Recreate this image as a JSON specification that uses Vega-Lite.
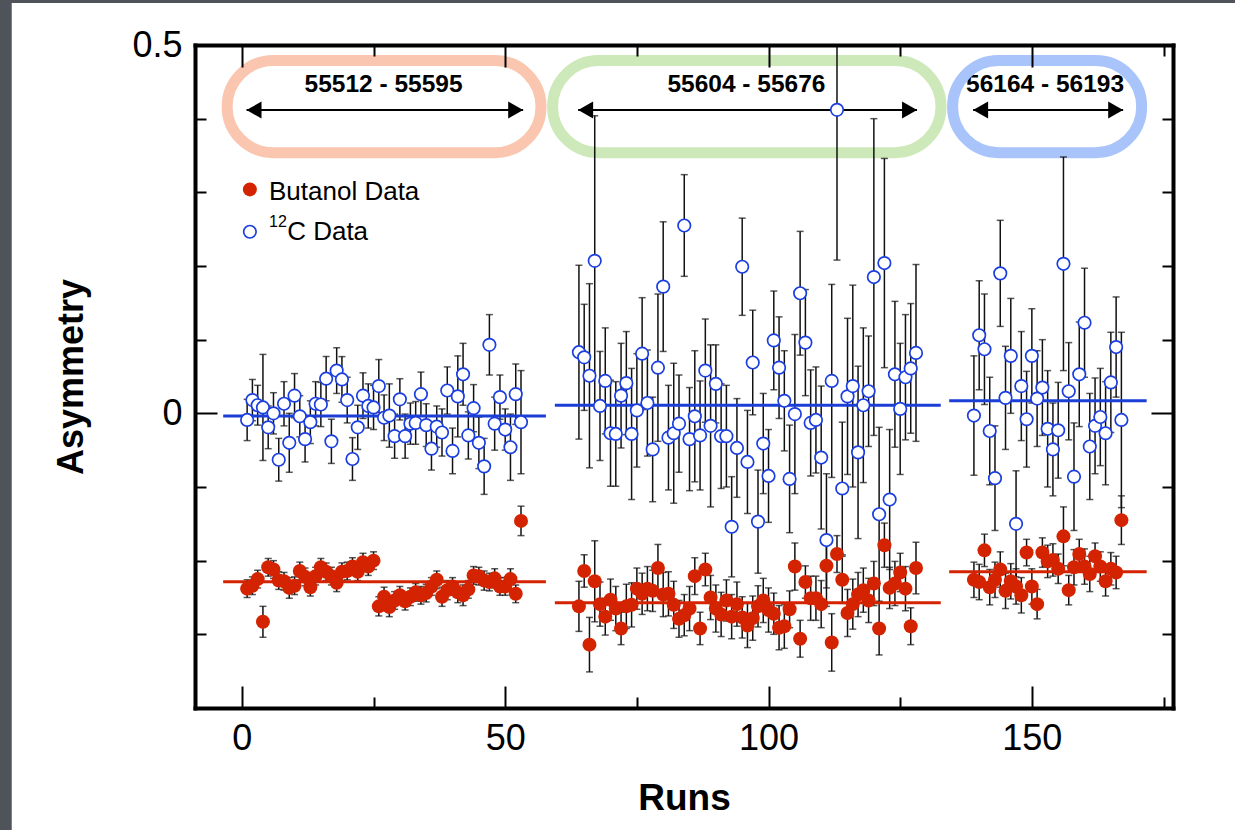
{
  "$schema": "https://vega.github.io/schema/vega-lite/v6.json",
  "width": 978,
  "height": 663,
  "autosize": {"type": "none"},
  "padding": {"left": 195, "top": 45, "right": 62, "bottom": 122},
  "background": "#4f535a",
  "config": {"view": {"stroke": null}, "font": "Liberation Sans"},
  "datasets": {
    "runs": [
      {"run":1,"target":"12C","asym":-0.009,"err":0.028},{"run":2,"target":"12C","asym":0.018,"err":0.028},{"run":3,"target":"12C","asym":0.011,"err":0.027},{"run":4,"target":"12C","asym":0.008,"err":0.072},{"run":5,"target":"12C","asym":-0.019,"err":0.029},{"run":6,"target":"12C","asym":0.0,"err":0.028},{"run":7,"target":"12C","asym":-0.063,"err":0.029},{"run":8,"target":"12C","asym":0.013,"err":0.030},{"run":9,"target":"12C","asym":-0.040,"err":0.040},{"run":10,"target":"12C","asym":0.024,"err":0.030},
      {"run":11,"target":"12C","asym":-0.004,"err":0.028},{"run":12,"target":"12C","asym":-0.035,"err":0.031},{"run":13,"target":"12C","asym":-0.012,"err":0.029},{"run":14,"target":"12C","asym":0.013,"err":0.030},{"run":15,"target":"12C","asym":0.012,"err":0.030},{"run":16,"target":"12C","asym":0.047,"err":0.030},{"run":17,"target":"12C","asym":-0.038,"err":0.030},{"run":18,"target":"12C","asym":0.058,"err":0.031},{"run":19,"target":"12C","asym":0.046,"err":0.031},{"run":20,"target":"12C","asym":0.018,"err":0.031},
      {"run":21,"target":"12C","asym":-0.062,"err":0.029},{"run":22,"target":"12C","asym":-0.019,"err":0.030},{"run":23,"target":"12C","asym":0.024,"err":0.031},{"run":24,"target":"12C","asym":0.010,"err":0.030},{"run":25,"target":"12C","asym":0.008,"err":0.030},{"run":26,"target":"12C","asym":0.037,"err":0.036},{"run":27,"target":"12C","asym":-0.006,"err":0.031},{"run":28,"target":"12C","asym":-0.003,"err":0.043},{"run":29,"target":"12C","asym":-0.031,"err":0.030},{"run":30,"target":"12C","asym":0.019,"err":0.028},
      {"run":31,"target":"12C","asym":-0.031,"err":0.030},{"run":32,"target":"12C","asym":-0.014,"err":0.028},{"run":33,"target":"12C","asym":-0.013,"err":0.029},{"run":34,"target":"12C","asym":0.026,"err":0.030},{"run":35,"target":"12C","asym":-0.016,"err":0.029},{"run":36,"target":"12C","asym":-0.048,"err":0.029},{"run":37,"target":"12C","asym":-0.018,"err":0.028},{"run":38,"target":"12C","asym":-0.026,"err":0.032},{"run":39,"target":"12C","asym":0.031,"err":0.032},{"run":40,"target":"12C","asym":-0.051,"err":0.031},
      {"run":41,"target":"12C","asym":0.023,"err":0.055},{"run":42,"target":"12C","asym":0.053,"err":0.042},{"run":43,"target":"12C","asym":-0.030,"err":0.032},{"run":44,"target":"12C","asym":0.007,"err":0.032},{"run":45,"target":"12C","asym":-0.040,"err":0.035},{"run":46,"target":"12C","asym":-0.072,"err":0.038},{"run":47,"target":"12C","asym":0.093,"err":0.041},{"run":48,"target":"12C","asym":-0.014,"err":0.036},{"run":49,"target":"12C","asym":0.022,"err":0.030},{"run":50,"target":"12C","asym":-0.022,"err":0.028},
      {"run":51,"target":"12C","asym":-0.046,"err":0.045},{"run":52,"target":"12C","asym":0.026,"err":0.041},{"run":53,"target":"12C","asym":-0.012,"err":0.070},
      {"run":64,"target":"12C","asym":0.083,"err":0.118},{"run":65,"target":"12C","asym":0.076,"err":0.072},{"run":66,"target":"12C","asym":0.051,"err":0.125},{"run":67,"target":"12C","asym":0.207,"err":0.197},{"run":68,"target":"12C","asym":0.010,"err":0.074},{"run":69,"target":"12C","asym":0.044,"err":0.072},{"run":70,"target":"12C","asym":-0.027,"err":0.072},
      {"run":71,"target":"12C","asym":-0.028,"err":0.071},{"run":72,"target":"12C","asym":0.024,"err":0.071},{"run":73,"target":"12C","asym":0.041,"err":0.070},{"run":74,"target":"12C","asym":-0.028,"err":0.089},{"run":75,"target":"12C","asym":0.004,"err":0.077},{"run":76,"target":"12C","asym":0.081,"err":0.076},{"run":77,"target":"12C","asym":0.014,"err":0.072},{"run":78,"target":"12C","asym":-0.049,"err":0.071},{"run":79,"target":"12C","asym":0.062,"err":0.100},{"run":80,"target":"12C","asym":0.172,"err":0.088},
      {"run":81,"target":"12C","asym":-0.033,"err":0.071},{"run":82,"target":"12C","asym":-0.027,"err":0.095},{"run":83,"target":"12C","asym":-0.014,"err":0.066},{"run":84,"target":"12C","asym":0.255,"err":0.069},{"run":85,"target":"12C","asym":-0.035,"err":0.070},{"run":86,"target":"12C","asym":-0.004,"err":0.089},{"run":87,"target":"12C","asym":-0.030,"err":0.074},{"run":88,"target":"12C","asym":0.058,"err":0.070},{"run":89,"target":"12C","asym":-0.017,"err":0.110},{"run":90,"target":"12C","asym":0.040,"err":0.053},
      {"run":91,"target":"12C","asym":-0.031,"err":0.071},{"run":92,"target":"12C","asym":-0.031,"err":0.069},{"run":93,"target":"12C","asym":-0.154,"err":0.068},{"run":94,"target":"12C","asym":-0.047,"err":0.067},{"run":95,"target":"12C","asym":0.199,"err":0.066},{"run":96,"target":"12C","asym":-0.066,"err":0.070},{"run":97,"target":"12C","asym":0.069,"err":0.071},{"run":98,"target":"12C","asym":-0.147,"err":0.070},{"run":99,"target":"12C","asym":-0.041,"err":0.068},{"run":100,"target":"12C","asym":-0.085,"err":0.063},
      {"run":101,"target":"12C","asym":0.099,"err":0.067},{"run":102,"target":"12C","asym":0.062,"err":0.069},{"run":103,"target":"12C","asym":0.017,"err":0.068},{"run":104,"target":"12C","asym":-0.089,"err":0.073},{"run":105,"target":"12C","asym":-0.001,"err":0.108},{"run":106,"target":"12C","asym":0.163,"err":0.084},{"run":107,"target":"12C","asym":0.096,"err":0.072},{"run":108,"target":"12C","asym":-0.013,"err":0.072},{"run":109,"target":"12C","asym":-0.009,"err":0.072},{"run":110,"target":"12C","asym":-0.060,"err":0.097},
      {"run":111,"target":"12C","asym":-0.172,"err":0.090},{"run":112,"target":"12C","asym":0.044,"err":0.131},{"run":113,"target":"12C","asym":0.412,"err":0.204},{"run":114,"target":"12C","asym":-0.102,"err":0.090},{"run":115,"target":"12C","asym":0.023,"err":0.106},{"run":116,"target":"12C","asym":0.037,"err":0.137},{"run":117,"target":"12C","asym":-0.053,"err":0.117},{"run":118,"target":"12C","asym":0.011,"err":0.105},{"run":119,"target":"12C","asym":0.030,"err":0.075},{"run":120,"target":"12C","asym":0.185,"err":0.215},
      {"run":121,"target":"12C","asym":-0.137,"err":0.118},{"run":122,"target":"12C","asym":0.204,"err":0.142},{"run":123,"target":"12C","asym":-0.117,"err":0.095},{"run":124,"target":"12C","asym":0.053,"err":0.099},{"run":125,"target":"12C","asym":0.006,"err":0.089},{"run":126,"target":"12C","asym":0.049,"err":0.085},{"run":127,"target":"12C","asym":0.061,"err":0.088},{"run":128,"target":"12C","asym":0.082,"err":0.120},
      {"run":139,"target":"12C","asym":-0.003,"err":0.081},{"run":140,"target":"12C","asym":0.106,"err":0.074},{"run":141,"target":"12C","asym":0.087,"err":0.075},{"run":142,"target":"12C","asym":-0.024,"err":0.073},{"run":143,"target":"12C","asym":-0.088,"err":0.071},{"run":144,"target":"12C","asym":0.190,"err":0.072},{"run":145,"target":"12C","asym":0.021,"err":0.070},{"run":146,"target":"12C","asym":0.078,"err":0.078},{"run":147,"target":"12C","asym":-0.150,"err":0.072},{"run":148,"target":"12C","asym":0.037,"err":0.074},
      {"run":149,"target":"12C","asym":-0.008,"err":0.065},{"run":150,"target":"12C","asym":0.078,"err":0.064},{"run":151,"target":"12C","asym":0.020,"err":0.065},{"run":152,"target":"12C","asym":0.035,"err":0.065},{"run":153,"target":"12C","asym":-0.021,"err":0.079},{"run":154,"target":"12C","asym":-0.049,"err":0.063},{"run":155,"target":"12C","asym":-0.023,"err":0.065},{"run":156,"target":"12C","asym":0.203,"err":0.145},{"run":157,"target":"12C","asym":0.030,"err":0.066},{"run":158,"target":"12C","asym":-0.086,"err":0.073},
      {"run":159,"target":"12C","asym":0.053,"err":0.071},{"run":160,"target":"12C","asym":0.123,"err":0.074},{"run":161,"target":"12C","asym":-0.045,"err":0.072},{"run":162,"target":"12C","asym":-0.017,"err":0.065},{"run":163,"target":"12C","asym":-0.005,"err":0.066},{"run":164,"target":"12C","asym":-0.027,"err":0.070},{"run":165,"target":"12C","asym":0.042,"err":0.068},{"run":166,"target":"12C","asym":0.090,"err":0.068},{"run":167,"target":"12C","asym":-0.009,"err":0.119},

      {"run":1,"target":"Butanol","asym":-0.238,"err":0.012},{"run":2,"target":"Butanol","asym":-0.234,"err":0.012},{"run":3,"target":"Butanol","asym":-0.225,"err":0.012},{"run":4,"target":"Butanol","asym":-0.283,"err":0.021},{"run":5,"target":"Butanol","asym":-0.209,"err":0.012},{"run":6,"target":"Butanol","asym":-0.212,"err":0.012},{"run":7,"target":"Butanol","asym":-0.227,"err":0.012},{"run":8,"target":"Butanol","asym":-0.228,"err":0.012},{"run":9,"target":"Butanol","asym":-0.237,"err":0.014},{"run":10,"target":"Butanol","asym":-0.234,"err":0.012},
      {"run":11,"target":"Butanol","asym":-0.214,"err":0.012},{"run":12,"target":"Butanol","asym":-0.222,"err":0.012},{"run":13,"target":"Butanol","asym":-0.236,"err":0.012},{"run":14,"target":"Butanol","asym":-0.221,"err":0.012},{"run":15,"target":"Butanol","asym":-0.209,"err":0.012},{"run":16,"target":"Butanol","asym":-0.215,"err":0.012},{"run":17,"target":"Butanol","asym":-0.221,"err":0.012},{"run":18,"target":"Butanol","asym":-0.230,"err":0.012},{"run":19,"target":"Butanol","asym":-0.215,"err":0.012},{"run":20,"target":"Butanol","asym":-0.214,"err":0.012},
      {"run":21,"target":"Butanol","asym":-0.208,"err":0.012},{"run":22,"target":"Butanol","asym":-0.215,"err":0.012},{"run":23,"target":"Butanol","asym":-0.202,"err":0.012},{"run":24,"target":"Butanol","asym":-0.208,"err":0.012},{"run":25,"target":"Butanol","asym":-0.200,"err":0.012},{"run":26,"target":"Butanol","asym":-0.262,"err":0.013},{"run":27,"target":"Butanol","asym":-0.249,"err":0.013},{"run":28,"target":"Butanol","asym":-0.263,"err":0.013},{"run":29,"target":"Butanol","asym":-0.254,"err":0.012},{"run":30,"target":"Butanol","asym":-0.247,"err":0.012},
      {"run":31,"target":"Butanol","asym":-0.255,"err":0.012},{"run":32,"target":"Butanol","asym":-0.249,"err":0.012},{"run":33,"target":"Butanol","asym":-0.243,"err":0.012},{"run":34,"target":"Butanol","asym":-0.247,"err":0.012},{"run":35,"target":"Butanol","asym":-0.244,"err":0.012},{"run":36,"target":"Butanol","asym":-0.235,"err":0.012},{"run":37,"target":"Butanol","asym":-0.226,"err":0.012},{"run":38,"target":"Butanol","asym":-0.249,"err":0.013},{"run":39,"target":"Butanol","asym":-0.240,"err":0.013},{"run":40,"target":"Butanol","asym":-0.235,"err":0.012},
      {"run":41,"target":"Butanol","asym":-0.243,"err":0.014},{"run":42,"target":"Butanol","asym":-0.247,"err":0.014},{"run":43,"target":"Butanol","asym":-0.239,"err":0.012},{"run":44,"target":"Butanol","asym":-0.220,"err":0.012},{"run":45,"target":"Butanol","asym":-0.221,"err":0.012},{"run":46,"target":"Butanol","asym":-0.227,"err":0.013},{"run":47,"target":"Butanol","asym":-0.229,"err":0.012},{"run":48,"target":"Butanol","asym":-0.224,"err":0.013},{"run":49,"target":"Butanol","asym":-0.235,"err":0.012},{"run":50,"target":"Butanol","asym":-0.235,"err":0.012},
      {"run":51,"target":"Butanol","asym":-0.225,"err":0.014},{"run":52,"target":"Butanol","asym":-0.245,"err":0.012},{"run":53,"target":"Butanol","asym":-0.146,"err":0.020},
      {"run":64,"target":"Butanol","asym":-0.262,"err":0.034},{"run":65,"target":"Butanol","asym":-0.214,"err":0.022},{"run":66,"target":"Butanol","asym":-0.314,"err":0.037},{"run":67,"target":"Butanol","asym":-0.228,"err":0.055},{"run":68,"target":"Butanol","asym":-0.259,"err":0.030},{"run":69,"target":"Butanol","asym":-0.276,"err":0.025},{"run":70,"target":"Butanol","asym":-0.253,"err":0.028},
      {"run":71,"target":"Butanol","asym":-0.265,"err":0.030},{"run":72,"target":"Butanol","asym":-0.292,"err":0.022},{"run":73,"target":"Butanol","asym":-0.262,"err":0.030},{"run":74,"target":"Butanol","asym":-0.260,"err":0.030},{"run":75,"target":"Butanol","asym":-0.238,"err":0.028},{"run":76,"target":"Butanol","asym":-0.245,"err":0.028},{"run":77,"target":"Butanol","asym":-0.238,"err":0.030},{"run":78,"target":"Butanol","asym":-0.241,"err":0.028},{"run":79,"target":"Butanol","asym":-0.210,"err":0.032},{"run":80,"target":"Butanol","asym":-0.246,"err":0.030},
      {"run":81,"target":"Butanol","asym":-0.245,"err":0.030},{"run":82,"target":"Butanol","asym":-0.260,"err":0.032},{"run":83,"target":"Butanol","asym":-0.279,"err":0.025},{"run":84,"target":"Butanol","asym":-0.274,"err":0.028},{"run":85,"target":"Butanol","asym":-0.265,"err":0.030},{"run":86,"target":"Butanol","asym":-0.221,"err":0.025},{"run":87,"target":"Butanol","asym":-0.292,"err":0.022},{"run":88,"target":"Butanol","asym":-0.212,"err":0.022},{"run":89,"target":"Butanol","asym":-0.250,"err":0.030},{"run":90,"target":"Butanol","asym":-0.265,"err":0.032},
      {"run":91,"target":"Butanol","asym":-0.273,"err":0.030},{"run":92,"target":"Butanol","asym":-0.254,"err":0.028},{"run":93,"target":"Butanol","asym":-0.276,"err":0.030},{"run":94,"target":"Butanol","asym":-0.259,"err":0.030},{"run":95,"target":"Butanol","asym":-0.277,"err":0.028},{"run":96,"target":"Butanol","asym":-0.288,"err":0.030},{"run":97,"target":"Butanol","asym":-0.278,"err":0.030},{"run":98,"target":"Butanol","asym":-0.262,"err":0.028},{"run":99,"target":"Butanol","asym":-0.254,"err":0.030},{"run":100,"target":"Butanol","asym":-0.267,"err":0.030},
      {"run":101,"target":"Butanol","asym":-0.272,"err":0.028},{"run":102,"target":"Butanol","asym":-0.291,"err":0.030},{"run":103,"target":"Butanol","asym":-0.289,"err":0.030},{"run":104,"target":"Butanol","asym":-0.266,"err":0.025},{"run":105,"target":"Butanol","asym":-0.208,"err":0.032},{"run":106,"target":"Butanol","asym":-0.306,"err":0.025},{"run":107,"target":"Butanol","asym":-0.229,"err":0.022},{"run":108,"target":"Butanol","asym":-0.251,"err":0.030},{"run":109,"target":"Butanol","asym":-0.251,"err":0.030},{"run":110,"target":"Butanol","asym":-0.259,"err":0.032},
      {"run":111,"target":"Butanol","asym":-0.207,"err":0.030},{"run":112,"target":"Butanol","asym":-0.311,"err":0.039},{"run":113,"target":"Butanol","asym":-0.191,"err":0.025},{"run":114,"target":"Butanol","asym":-0.226,"err":0.032},{"run":115,"target":"Butanol","asym":-0.271,"err":0.032},{"run":116,"target":"Butanol","asym":-0.259,"err":0.034},{"run":117,"target":"Butanol","asym":-0.246,"err":0.030},{"run":118,"target":"Butanol","asym":-0.240,"err":0.030},{"run":119,"target":"Butanol","asym":-0.254,"err":0.030},{"run":120,"target":"Butanol","asym":-0.231,"err":0.030},
      {"run":121,"target":"Butanol","asym":-0.292,"err":0.036},{"run":122,"target":"Butanol","asym":-0.179,"err":0.030},{"run":123,"target":"Butanol","asym":-0.237,"err":0.028},{"run":124,"target":"Butanol","asym":-0.231,"err":0.030},{"run":125,"target":"Butanol","asym":-0.216,"err":0.026},{"run":126,"target":"Butanol","asym":-0.238,"err":0.030},{"run":127,"target":"Butanol","asym":-0.289,"err":0.025},{"run":128,"target":"Butanol","asym":-0.210,"err":0.035},
      {"run":139,"target":"Butanol","asym":-0.226,"err":0.024},{"run":140,"target":"Butanol","asym":-0.229,"err":0.024},{"run":141,"target":"Butanol","asym":-0.186,"err":0.022},{"run":142,"target":"Butanol","asym":-0.236,"err":0.024},{"run":143,"target":"Butanol","asym":-0.226,"err":0.024},{"run":144,"target":"Butanol","asym":-0.212,"err":0.024},{"run":145,"target":"Butanol","asym":-0.241,"err":0.024},{"run":146,"target":"Butanol","asym":-0.228,"err":0.024},{"run":147,"target":"Butanol","asym":-0.235,"err":0.024},{"run":148,"target":"Butanol","asym":-0.247,"err":0.024},
      {"run":149,"target":"Butanol","asym":-0.189,"err":0.018},{"run":150,"target":"Butanol","asym":-0.235,"err":0.024},{"run":151,"target":"Butanol","asym":-0.259,"err":0.020},{"run":152,"target":"Butanol","asym":-0.189,"err":0.020},{"run":153,"target":"Butanol","asym":-0.201,"err":0.022},{"run":154,"target":"Butanol","asym":-0.199,"err":0.022},{"run":155,"target":"Butanol","asym":-0.211,"err":0.020},{"run":156,"target":"Butanol","asym":-0.167,"err":0.040},{"run":157,"target":"Butanol","asym":-0.240,"err":0.020},{"run":158,"target":"Butanol","asym":-0.209,"err":0.024},
      {"run":159,"target":"Butanol","asym":-0.191,"err":0.020},{"run":160,"target":"Butanol","asym":-0.208,"err":0.024},{"run":161,"target":"Butanol","asym":-0.218,"err":0.024},{"run":162,"target":"Butanol","asym":-0.194,"err":0.018},{"run":163,"target":"Butanol","asym":-0.208,"err":0.020},{"run":164,"target":"Butanol","asym":-0.228,"err":0.020},{"run":165,"target":"Butanol","asym":-0.211,"err":0.022},{"run":166,"target":"Butanol","asym":-0.216,"err":0.022},{"run":167,"target":"Butanol","asym":-0.145,"err":0.033}
    ],
    "fits": [
      {"target": "12C", "run_from": -3.55, "run_to": 57.73, "asym": -0.0037},
      {"target": "12C", "run_from": 59.43, "run_to": 132.7, "asym": 0.0109},
      {"target": "12C", "run_from": 134.3, "run_to": 171.8, "asym": 0.0171},
      {"target": "Butanol", "run_from": -3.55, "run_to": 57.73, "asym": -0.2286},
      {"target": "Butanol", "run_from": 59.43, "run_to": 132.7, "asym": -0.2571},
      {"target": "Butanol", "run_from": 134.3, "run_to": 171.8, "asym": -0.2150}
    ]
  },
  "resolve": {"axis": {"x": "independent", "y": "independent"}},
  "layer": [
    {
      "data": {"values": [{}]},
      "mark": {"type": "rect", "fill": "white", "clip": false},
      "encoding": {
        "x": {"datum": -43.7, "type": "quantitative", "scale": {"domain": [-8.9, 176.8], "nice": false, "zero": false}, "axis": null},
        "x2": {"datum": 200},
        "y": {"datum": 0.557, "type": "quantitative", "scale": {"domain": [-0.4, 0.5], "nice": false, "zero": false}, "axis": null},
        "y2": {"datum": -0.7}
      }
    },
    {
      "data": {"values": [{}]},
      "mark": {"type": "text", "text": "55512 - 55595", "fontSize": 24.5, "fontWeight": "bold", "align": "center", "baseline": "alphabetic", "color": "black"},
      "encoding": {"x": {"datum": 26.9, "type": "quantitative", "axis": null}, "y": {"datum": 0.4366, "type": "quantitative", "axis": null}}
    },
    {
      "data": {"values": [{}]},
      "mark": {"type": "text", "text": "55604 - 55676", "fontSize": 24.5, "fontWeight": "bold", "align": "center", "baseline": "alphabetic", "color": "black"},
      "encoding": {"x": {"datum": 95.8, "type": "quantitative", "axis": null}, "y": {"datum": 0.4366, "type": "quantitative", "axis": null}}
    },
    {
      "data": {"values": [{}]},
      "mark": {"type": "text", "text": "56164 - 56193", "fontSize": 24.5, "fontWeight": "bold", "align": "center", "baseline": "alphabetic", "color": "black"},
      "encoding": {"x": {"datum": 152.5, "type": "quantitative", "axis": null}, "y": {"datum": 0.4366, "type": "quantitative", "axis": null}}
    },
    {
      "data": {"values": [{}]},
      "mark": {"type": "rect", "filled": false, "stroke": "#fac6af", "strokeWidth": 11, "cornerRadius": 46},
      "encoding": {"x": {"datum": -2.8, "type": "quantitative", "axis": null}, "x2": {"datum": 56.8}, "y": {"datum": 0.4789, "type": "quantitative", "axis": null}, "y2": {"datum": 0.3539}}
    },
    {
      "data": {"values": [{}]},
      "mark": {"type": "rect", "filled": false, "stroke": "#cde8b9", "strokeWidth": 11, "cornerRadius": 46},
      "encoding": {"x": {"datum": 59.0, "type": "quantitative", "axis": null}, "x2": {"datum": 132.75}, "y": {"datum": 0.4789, "type": "quantitative", "axis": null}, "y2": {"datum": 0.3539}}
    },
    {
      "data": {"values": [{}]},
      "mark": {"type": "rect", "filled": false, "stroke": "#a8c4fa", "strokeWidth": 11, "cornerRadius": 46},
      "encoding": {"x": {"datum": 134.95, "type": "quantitative", "axis": null}, "x2": {"datum": 170.85}, "y": {"datum": 0.4789, "type": "quantitative", "axis": null}, "y2": {"datum": 0.3539}}
    },
    {
      "data": {"values": [{}]},
      "mark": {"type": "rule", "color": "black", "strokeWidth": 2},
      "encoding": {"x": {"datum": 0.89, "type": "quantitative", "axis": null}, "x2": {"datum": 53.41}, "y": {"datum": 0.4117, "type": "quantitative", "axis": null}}
    },
    {
      "data": {"values": [{}]},
      "mark": {"type": "rule", "color": "black", "strokeWidth": 2},
      "encoding": {"x": {"datum": 63.85, "type": "quantitative", "axis": null}, "x2": {"datum": 128.2}, "y": {"datum": 0.4117, "type": "quantitative", "axis": null}}
    },
    {
      "data": {"values": [{}]},
      "mark": {"type": "rule", "color": "black", "strokeWidth": 2},
      "encoding": {"x": {"datum": 138.85, "type": "quantitative", "axis": null}, "x2": {"datum": 167.33}, "y": {"datum": 0.4117, "type": "quantitative", "axis": null}}
    },
    {
      "data": {"values": [{}]},
      "mark": {"type": "point", "shape": "M0,0L1.55,-0.88L1.55,0.88Z", "filled": true, "color": "black", "opacity": 1, "size": 373, "strokeWidth": 0},
      "encoding": {"x": {"datum": 0.89, "type": "quantitative", "axis": null}, "y": {"datum": 0.4117, "type": "quantitative", "axis": null}}
    },
    {
      "data": {"values": [{}]},
      "mark": {"type": "point", "shape": "M0,0L-1.55,-0.88L-1.55,0.88Z", "filled": true, "color": "black", "opacity": 1, "size": 373, "strokeWidth": 0},
      "encoding": {"x": {"datum": 53.41, "type": "quantitative", "axis": null}, "y": {"datum": 0.4117, "type": "quantitative", "axis": null}}
    },
    {
      "data": {"values": [{}]},
      "mark": {"type": "point", "shape": "M0,0L1.55,-0.88L1.55,0.88Z", "filled": true, "color": "black", "opacity": 1, "size": 373, "strokeWidth": 0},
      "encoding": {"x": {"datum": 63.85, "type": "quantitative", "axis": null}, "y": {"datum": 0.4117, "type": "quantitative", "axis": null}}
    },
    {
      "data": {"values": [{}]},
      "mark": {"type": "point", "shape": "M0,0L-1.55,-0.88L-1.55,0.88Z", "filled": true, "color": "black", "opacity": 1, "size": 373, "strokeWidth": 0},
      "encoding": {"x": {"datum": 128.2, "type": "quantitative", "axis": null}, "y": {"datum": 0.4117, "type": "quantitative", "axis": null}}
    },
    {
      "data": {"values": [{}]},
      "mark": {"type": "point", "shape": "M0,0L1.55,-0.88L1.55,0.88Z", "filled": true, "color": "black", "opacity": 1, "size": 373, "strokeWidth": 0},
      "encoding": {"x": {"datum": 138.85, "type": "quantitative", "axis": null}, "y": {"datum": 0.4117, "type": "quantitative", "axis": null}}
    },
    {
      "data": {"values": [{}]},
      "mark": {"type": "point", "shape": "M0,0L-1.55,-0.88L-1.55,0.88Z", "filled": true, "color": "black", "opacity": 1, "size": 373, "strokeWidth": 0},
      "encoding": {"x": {"datum": 167.33, "type": "quantitative", "axis": null}, "y": {"datum": 0.4117, "type": "quantitative", "axis": null}}
    },
    {
      "data": {"values": [{}]},
      "mark": {"type": "circle", "color": "#d42300", "opacity": 1, "size": 196},
      "encoding": {"x": {"datum": 1.52, "type": "quantitative", "axis": null}, "y": {"datum": 0.304, "type": "quantitative", "axis": null}}
    },
    {
      "data": {"values": [{}]},
      "mark": {"type": "text", "text": "Butanol Data", "fontSize": 26, "align": "left", "baseline": "alphabetic", "color": "black"},
      "encoding": {"x": {"datum": 5.15, "type": "quantitative", "axis": null}, "y": {"datum": 0.2896, "type": "quantitative", "axis": null}}
    },
    {
      "data": {"values": [{}]},
      "mark": {"type": "point", "shape": "circle", "filled": true, "fill": "white", "stroke": "#1a3ee0", "strokeWidth": 1.7, "opacity": 1, "size": 156},
      "encoding": {"x": {"datum": 1.52, "type": "quantitative", "axis": null}, "y": {"datum": 0.2465, "type": "quantitative", "axis": null}}
    },
    {
      "data": {"values": [{}]},
      "mark": {"type": "text", "text": "12", "fontSize": 16, "align": "left", "baseline": "alphabetic", "color": "black"},
      "encoding": {"x": {"datum": 5.15, "type": "quantitative", "axis": null}, "y": {"datum": 0.2529, "type": "quantitative", "axis": null}}
    },
    {
      "data": {"values": [{}]},
      "mark": {"type": "text", "text": "C Data", "fontSize": 26, "align": "left", "baseline": "alphabetic", "color": "black"},
      "encoding": {"x": {"datum": 8.6, "type": "quantitative", "axis": null}, "y": {"datum": 0.2353, "type": "quantitative", "axis": null}}
    },
    {
      "data": {"name": "runs"},
      "transform": [{"filter": "datum.target === '12C'"}],
      "mark": {"type": "errorbar", "color": "#111111", "clip": true, "ticks": {"size": 7, "thickness": 1.5}, "rule": {"strokeWidth": 1.5}},
      "encoding": {
        "x": {"field": "run", "type": "quantitative", "axis": null},
        "y": {"field": "asym", "type": "quantitative", "axis": null},
        "yError": {"field": "err"}
      }
    },
    {
      "data": {"name": "runs"},
      "transform": [{"filter": "datum.target === 'Butanol'"}],
      "mark": {"type": "errorbar", "color": "#111111", "clip": true, "ticks": {"size": 7, "thickness": 1.5}, "rule": {"strokeWidth": 1.5}},
      "encoding": {
        "x": {"field": "run", "type": "quantitative", "axis": null},
        "y": {"field": "asym", "type": "quantitative", "axis": null},
        "yError": {"field": "err"}
      }
    },
    {
      "data": {"name": "fits"},
      "mark": {"type": "rule", "strokeWidth": 3},
      "encoding": {
        "x": {"field": "run_from", "type": "quantitative", "axis": null},
        "x2": {"field": "run_to"},
        "y": {"field": "asym", "type": "quantitative", "axis": null},
        "color": {"field": "target", "type": "nominal", "scale": {"domain": ["12C", "Butanol"], "range": ["#1b3fd6", "#d42300"]}, "legend": null}
      }
    },
    {
      "data": {"name": "runs"},
      "transform": [{"filter": "datum.target === '12C'"}],
      "mark": {"type": "point", "shape": "circle", "filled": true, "fill": "white", "stroke": "#1a3ee0", "strokeWidth": 1.7, "opacity": 1, "size": 156, "clip": true},
      "encoding": {
        "x": {
          "field": "run", "type": "quantitative",
          "scale": {"domain": [-8.9, 176.8], "nice": false, "zero": false},
          "axis": {
            "orient": "bottom", "zindex": 1, "grid": false,
            "values": [0, 25, 50, 75, 100, 125, 150, 175],
            "labelExpr": "datum.value % 50 === 0 ? datum.label : ''",
            "domain": true, "domainColor": "black", "domainWidth": 4, "domainCap": "square",
            "ticks": true, "tickColor": "black", "tickWidth": 2,
            "tickSize": {"condition": {"test": "datum.value % 50 === 0", "value": -22}, "value": -11},
            "labelFont": "Liberation Sans", "labelFontSize": 36, "labelColor": "black",
            "labelPadding": 35, "labelFlush": false, "labelOverlap": false,
            "title": "Runs", "titleFont": "Liberation Sans", "titleFontSize": 37, "titleFontWeight": "bold", "titleColor": "black", "titlePadding": 13
          }
        },
        "y": {
          "field": "asym", "type": "quantitative",
          "scale": {"domain": [-0.4, 0.5], "nice": false, "zero": false},
          "axis": {
            "orient": "left", "zindex": 1, "grid": false,
            "values": [-0.4, -0.3, -0.2, -0.1, 0, 0.1, 0.2, 0.3, 0.4, 0.5],
            "labelExpr": "datum.value === 0 ? '0' : (datum.value === 0.5 ? '0.5' : '')",
            "domain": true, "domainColor": "black", "domainWidth": 4, "domainCap": "square",
            "ticks": true, "tickColor": "black", "tickWidth": 2,
            "tickSize": {"condition": {"test": "datum.value === 0 || datum.value === 0.5", "value": -22}, "value": -11},
            "labelFont": "Liberation Sans", "labelFontSize": 36, "labelColor": "black",
            "labelPadding": 35, "labelFlush": false, "labelOverlap": false,
            "title": "Asymmetry", "titleFont": "Liberation Sans", "titleFontSize": 36, "titleFontWeight": "bold", "titleColor": "black", "titlePadding": 41
          }
        }
      }
    },
    {
      "data": {"name": "runs"},
      "transform": [{"filter": "datum.target === 'Butanol'"}],
      "mark": {"type": "circle", "color": "#d42300", "opacity": 1, "size": 196, "clip": true},
      "encoding": {
        "x": {
          "field": "run", "type": "quantitative",
          "scale": {"domain": [-8.9, 176.8], "nice": false, "zero": false},
          "axis": {
            "orient": "top", "zindex": 1, "grid": false, "labels": false, "title": null,
            "values": [0, 25, 50, 75, 100, 125, 150, 175],
            "domain": true, "domainColor": "black", "domainWidth": 4, "domainCap": "square",
            "ticks": true, "tickColor": "black", "tickWidth": 2,
            "tickSize": {"condition": {"test": "datum.value % 50 === 0", "value": -22}, "value": -11}
          }
        },
        "y": {
          "field": "asym", "type": "quantitative",
          "scale": {"domain": [-0.4, 0.5], "nice": false, "zero": false},
          "axis": {
            "orient": "right", "zindex": 1, "grid": false, "labels": false, "title": null,
            "values": [-0.4, -0.3, -0.2, -0.1, 0, 0.1, 0.2, 0.3, 0.4, 0.5],
            "domain": true, "domainColor": "black", "domainWidth": 4, "domainCap": "square",
            "ticks": true, "tickColor": "black", "tickWidth": 2,
            "tickSize": {"condition": {"test": "datum.value === 0 || datum.value === 0.5", "value": -22}, "value": -11}
          }
        }
      }
    }
  ]
}
